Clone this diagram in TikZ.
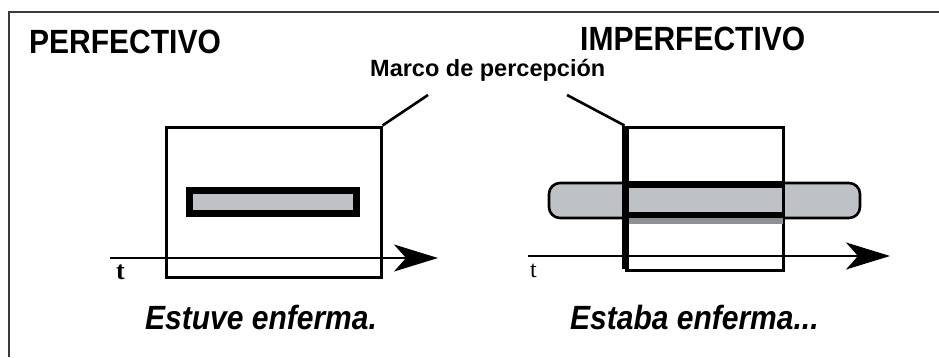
\documentclass[tikz,border=0pt]{standalone}
\usepackage{fontspec}
\setmainfont{Liberation Sans}
\newfontfamily\tserif{Liberation Serif}
\usetikzlibrary{arrows.meta}
\definecolor{bargray}{HTML}{BEC1C5}
\definecolor{bandgray}{HTML}{8E9194}
\definecolor{bordergray}{HTML}{3A3A3A}
\tikzset{
  frame/.style={draw=black, line width=3pt, inner sep=0pt},
  leader/.style={draw=black, line width=2.6pt},
  axis/.style={draw=black, line width=2.2pt, -{Stealth[length=44pt,width=27pt,inset=12pt]}},
  title/.style={inner sep=0pt, anchor=base west, font=\bfseries\fontsize{30}{34}\selectfont},
  sentence/.style={inner sep=0pt, anchor=base west, font=\bfseries\itshape\fontsize{30}{34}\selectfont},
  tlabel/.style={inner sep=0pt, anchor=base west, font=\tserif\bfseries\fontsize{26}{30}\selectfont},
}
\begin{document}
\begin{tikzpicture}[x=1pt,y=-1pt]
\useasboundingbox (0,0) rectangle (939,357);
% outer border (open)
\draw[bordergray, line width=1.2pt] (9,357) -- (9,12) -- (939,12);

% titles
\node[title] (perf) at (29,53) {\scalebox{1}[1.12]{PERFECTIVO}};
\node[title] (imperf) at (580,50) {\scalebox{1}[1.12]{IMPERFECTIVO}};
\node[inner sep=0pt, anchor=base west, font=\bfseries\fontsize{23.5}{28}\selectfont] (marco) at (370,76) {Marco de percepción};

% ---------- left (perfective) ----------
\node[frame, minimum width=215pt, minimum height=150pt] (frameL) at (273.5,202) {};
\node[draw=black, line width=7pt, fill=bargray, inner sep=0pt, minimum width=167pt, minimum height=23pt] (barL) at (272.5,201.5) {};
\coordinate (tL0) at (110,258);
\coordinate (tL1) at (438,258);
\draw[axis] (tL0) -- (tL1);
\node[tlabel] (tL) at (116,279) {t};
\coordinate (leadL) at (428,95);
\draw[leader] (frameL.north east) -- (leadL);

% ---------- right (imperfective) ----------
\node[draw=black, line width=2.6pt, fill=bargray, rounded corners=11pt, inner sep=0pt, minimum width=311pt, minimum height=35pt] (barR) at (704.5,200.5) {};
\node[frame, minimum width=157pt, minimum height=143pt] (frameR) at (704.5,198.5) {};
\fill[bandgray] (627,217) rectangle (783,224);
\draw[black, line width=7pt] (626,184.5) -- (783,184.5);
\draw[black, line width=6pt] (626,215) -- (783,215);
\draw[black, line width=7pt] (frameR.north west) ++(1,0) -- ++(0,143);
\coordinate (tR0) at (528,256);
\coordinate (tR1) at (890,256);
\draw[axis] (tR0) -- (tR1);
\node[tlabel, font=\tserif\fontsize{24}{28}\selectfont] (tR) at (530,277) {t};
\coordinate (leadR) at (567,95);
\draw[leader] (frameR.north west) -- (leadR);

% sentences
\node[sentence] (estuve) at (145,329) {\scalebox{1}[1.12]{Estuve enferma.}};
\node[sentence] (estaba) at (570,329) {\scalebox{1}[1.12]{Estaba enferma...}};
\end{tikzpicture}
\end{document}
